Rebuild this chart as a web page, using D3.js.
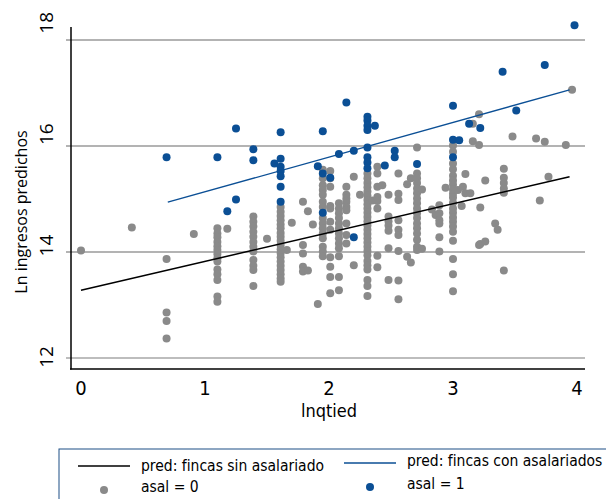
<!DOCTYPE html>
<html lang="es">
<head>
  <meta charset="UTF-8">
  <title>Ln ingresos predichos</title>
  <script src="https://cdn.jsdelivr.net/npm/d3@7"></script>
  <style>
    body { margin: 0; background: #fff; }
    svg { display: block; }
    .narrow { font-family: "Liberation Sans Narrow", "DejaVu Sans Condensed", sans-serif; }
  </style>
</head>
<body>
  <script>
    // Ticks
    const xTicks = [0, 1, 2, 3, 4];
    const yTicks = [12, 14, 16, 18];

    // asal = 0 (gray), grouped by lnqtied column: [x, [ln ingresos...]]
    const asal0 = [
      [0.00, [14.03]],
      [0.41, [14.46]],
      [0.69, [13.87, 12.86, 12.70, 12.37]],
      [0.91, [14.34]],
      [1.10, [14.45, 14.35, 14.28, 14.19, 14.11, 14.04, 13.96, 13.88, 13.82, 13.67, 13.58, 13.47, 13.16, 13.06]],
      [1.18, [14.44]],
      [1.39, [14.67, 14.57, 14.48, 14.38, 14.29, 14.19, 14.10, 14.01, 13.85, 13.74, 13.66, 13.36]],
      [1.50, [14.25]],
      [1.61, [14.85, 14.76, 14.68, 14.60, 14.52, 14.45, 14.36, 14.29, 14.21, 14.13, 14.05, 13.98, 13.90, 13.82, 13.74, 13.66, 13.58, 13.50, 13.44]],
      [1.66, [14.04]],
      [1.70, [14.55]],
      [1.79, [14.95, 14.13, 13.97, 13.72, 13.63]],
      [1.83, [14.77, 13.65]],
      [1.87, [14.52]],
      [1.91, [13.02]],
      [1.95, [15.55, 15.39, 15.26, 15.17, 15.08, 14.95, 14.85, 14.64, 14.54, 14.45, 14.35, 14.26, 14.10, 14.01, 13.92]],
      [2.01, [15.53, 15.39, 15.23, 14.87, 14.82, 14.57, 14.42, 13.90, 13.72, 13.53, 13.22]],
      [2.08, [14.92, 14.82, 14.73, 14.64, 14.54, 14.45, 14.35, 14.26, 14.16, 14.07, 13.92, 13.53, 13.28]],
      [2.14, [15.23, 15.08, 15.01, 14.95, 14.85, 14.79, 14.54, 14.32, 14.16]],
      [2.20, [15.42, 13.75]],
      [2.25, [15.08]],
      [2.31, [15.48, 15.39, 15.30, 15.22, 15.14, 15.06, 14.98, 14.90, 14.82, 14.74, 14.66, 14.58, 14.50, 14.42, 14.34, 14.26, 14.18, 14.10, 14.02, 13.94, 13.83, 13.75, 13.67, 13.47, 13.36, 13.17]],
      [2.35, [14.97]],
      [2.39, [15.61, 15.48, 15.23, 15.04, 14.96, 14.82, 13.93, 13.71]],
      [2.43, [15.26]],
      [2.48, [15.08, 14.67, 14.58, 14.50, 14.40, 14.07, 13.47]],
      [2.56, [15.48, 15.10, 14.98, 14.60, 14.42, 14.32, 14.02, 13.46, 13.11]],
      [2.63, [15.28, 13.91]],
      [2.66, [15.39, 13.80]],
      [2.71, [15.97, 15.48, 15.39, 15.30, 15.20, 15.11, 15.01, 14.92, 14.82, 14.73, 14.64, 14.54, 14.45, 14.35, 14.23, 14.10, 14.04]],
      [2.75, [15.18, 14.06]],
      [2.83, [14.80]],
      [2.86, [14.70]],
      [2.89, [14.88, 14.73, 14.60, 14.54, 14.28, 14.01]],
      [2.94, [15.21]],
      [3.00, [16.01, 15.89, 15.67, 15.56, 15.44, 15.35, 15.27, 15.18, 15.10, 15.03, 14.93, 14.82, 14.74, 14.65, 14.57, 14.48, 14.38, 14.21, 13.87, 13.58, 13.26]],
      [3.04, [15.17]],
      [3.07, [14.87]],
      [3.08, [15.23]],
      [3.10, [15.47, 15.11]],
      [3.14, [15.11]],
      [3.16, [16.09, 16.42]],
      [3.21, [16.02, 16.60, 14.13]],
      [3.22, [14.84, 14.15]],
      [3.26, [14.20, 15.35]],
      [3.34, [14.54]],
      [3.36, [14.42]],
      [3.41, [15.57, 15.40, 15.30, 15.20, 15.12, 13.65]],
      [3.48, [16.18]],
      [3.67, [16.14]],
      [3.70, [14.97]],
      [3.74, [16.08]],
      [3.77, [15.42]],
      [3.91, [16.02]],
      [3.96, [17.06]]
    ];

    // asal = 1 (blue)
    const asal1 = [
      [0.69, [15.79]],
      [1.10, [15.79]],
      [1.18, [14.77]],
      [1.25, [16.33, 14.99]],
      [1.39, [15.94, 15.73]],
      [1.56, [15.67]],
      [1.61, [16.26, 15.76, 15.61, 15.53, 15.43, 15.23, 14.95]],
      [1.91, [15.62]],
      [1.95, [16.28, 15.48, 14.74]],
      [2.01, [15.40]],
      [2.08, [15.85]],
      [2.14, [16.82]],
      [2.20, [15.91, 14.28]],
      [2.31, [16.55, 16.48, 16.38, 16.30, 15.97, 15.79, 15.69, 15.58]],
      [2.37, [16.38]],
      [2.45, [15.63]],
      [2.53, [15.91, 15.79]],
      [2.71, [15.66]],
      [3.00, [16.76, 16.12, 15.79]],
      [3.05, [16.11]],
      [3.13, [16.42]],
      [3.22, [16.34]],
      [3.40, [17.40]],
      [3.51, [16.67]],
      [3.74, [17.53]],
      [3.98, [18.28]]
    ];

    // Fitted lines (end points)
    const predSinX = [0.00, 3.94];
    const predSinY = [13.28, 15.42];
    const predConX = [0.70, 3.94];
    const predConY = [14.94, 17.06];

    const grayCol = "#8a8a8a";
    const blueCol = "#0b4f95";

    const width = 606, height = 499;
    const svg = d3.select("body").append("svg")
      .attr("width", width).attr("height", height);

    const x = d3.scaleLinear().domain([0, 4]).range([81, 577]);
    const y = d3.scaleLinear().domain([12, 18]).range([358, 40]);

    // Grid lines
    svg.append("g").selectAll("line")
      .data(yTicks)
      .join("line")
      .attr("x1", 66).attr("x2", 585)
      .attr("y1", d => y(d)).attr("y2", d => y(d))
      .attr("stroke", d => d === 12 ? "#bdbdbd" : "#9a9a9a")
      .attr("stroke-width", d => d === 12 ? 2 : 1.3);

    // Y tick labels (rotated)
    svg.append("g").selectAll("text")
      .data(yTicks)
      .join("text")
      .attr("transform", d => `translate(53,${y(d) - 1 - (d - 12) * 2.7}) rotate(-90)`)
      .attr("text-anchor", "middle")
      .style("font-family", "'Open Sans', sans-serif")
      .style("font-size", "19px")
      .text(d => d);

    // Points
    const flat = arr => arr.flatMap(([xv, ys]) => ys.map(v => [xv, v]));

    svg.append("g").selectAll("circle")
      .data(flat(asal0))
      .join("circle")
      .attr("cx", d => x(d[0]))
      .attr("cy", d => y(d[1]))
      .attr("r", 4)
      .attr("fill", grayCol);

    svg.append("g").selectAll("circle")
      .data(flat(asal1))
      .join("circle")
      .attr("cx", d => x(d[0]))
      .attr("cy", d => y(d[1]))
      .attr("r", 4)
      .attr("fill", blueCol);

    // Fitted lines
    const line = d3.line().x(d => x(d[0])).y(d => y(d[1]));
    svg.append("path")
      .datum(predSinX.map((v, i) => [v, predSinY[i]]))
      .attr("d", line)
      .attr("fill", "none").attr("stroke", "#000").attr("stroke-width", 1.5);
    svg.append("path")
      .datum(predConX.map((v, i) => [v, predConY[i]]))
      .attr("d", line)
      .attr("fill", "none").attr("stroke", blueCol).attr("stroke-width", 1.3);

    // Axis lines
    svg.append("line").attr("x1", 71).attr("x2", 71).attr("y1", 27).attr("y2", 369.5)
      .attr("stroke", "#000").attr("stroke-width", 1.5);
    svg.append("line").attr("x1", 70).attr("x2", 585).attr("y1", 369).attr("y2", 369)
      .attr("stroke", "#000").attr("stroke-width", 1.5);

    // X tick labels
    svg.append("g").selectAll("text")
      .data(xTicks)
      .join("text")
      .attr("class", "narrow")
      .attr("x", d => x(d))
      .attr("y", 395)
      .attr("text-anchor", "middle")
      .style("font-size", "20px")
      .text(d => d);

    // Axis titles
    svg.append("text")
      .attr("class", "narrow")
      .attr("x", x(2)).attr("y", 417)
      .attr("text-anchor", "middle")
      .style("font-size", "18px")
      .text("lnqtied");

    svg.append("text")
      .attr("transform", "translate(27,212) rotate(-90)")
      .attr("text-anchor", "middle")
      .style("font-family", "'Open Sans', sans-serif")
      .style("font-size", "16px")
      .text("Ln ingresos predichos");

    // Legend
    const lg = svg.append("g");
    lg.append("rect")
      .attr("x", 59).attr("y", 449).attr("width", 560).attr("height", 60)
      .attr("fill", "#fff").attr("stroke", "#1d4f86").attr("stroke-width", 1);

    const legendItems = [
      { type: "line", color: "#000", x: 78, y: 466, label: "pred: fincas sin asalariado", ty: 471 },
      { type: "dot", color: grayCol, x: 78, y: 490, label: "asal = 0", ty: 492 },
      { type: "line", color: blueCol, x: 344, y: 463, label: "pred: fincas con asalariados", ty: 466 },
      { type: "dot", color: blueCol, x: 344, y: 487, label: "asal = 1", ty: 489 }
    ];
    legendItems.forEach(it => {
      if (it.type === "line") {
        lg.append("line").attr("x1", it.x).attr("x2", it.x + 52)
          .attr("y1", it.y).attr("y2", it.y)
          .attr("stroke", it.color).attr("stroke-width", 1.4);
      } else {
        lg.append("circle").attr("cx", it.x + 26).attr("cy", it.y).attr("r", 4)
          .attr("fill", it.color);
      }
      lg.append("text")
        .attr("class", "narrow")
        .attr("x", it.x + 63).attr("y", it.ty)
        .style("font-size", "15.5px")
        .text(it.label);
    });
  </script>
</body>
</html>
